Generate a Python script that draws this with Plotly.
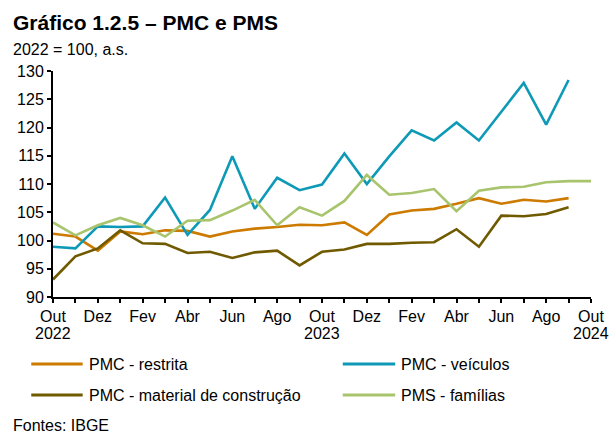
import plotly.graph_objects as go

# ---- data ----
months = ["Out 2022", "Nov 2022", "Dez 2022", "Jan 2023", "Fev 2023", "Mar 2023",
          "Abr 2023", "Mai 2023", "Jun 2023", "Jul 2023", "Ago 2023", "Set 2023",
          "Out 2023", "Nov 2023", "Dez 2023", "Jan 2024", "Fev 2024", "Mar 2024",
          "Abr 2024", "Mai 2024", "Jun 2024", "Jul 2024", "Ago 2024", "Set 2024",
          "Out 2024"]

pmc_restrita = [101.2, 100.7, 98.2, 101.6, 101.1, 101.8, 101.7, 100.7, 101.6, 102.1,
                102.4, 102.8, 102.7, 103.2, 101.0, 104.6, 105.3, 105.6, 106.5, 107.5,
                106.5, 107.2, 106.9, 107.5]
pmc_veiculos = [98.9, 98.6, 102.5, 102.4, 102.5, 107.6, 101.0, 105.4, 114.9, 105.6,
                111.1, 108.9, 109.9, 115.4, 110.0, 114.9, 119.5, 117.7, 120.9, 117.7,
                122.8, 127.9, 120.5, 128.4]
pmc_material = [93.1, 97.2, 98.6, 101.8, 99.5, 99.4, 97.8, 98.0, 96.9, 97.9,
                98.2, 95.6, 98.0, 98.4, 99.4, 99.4, 99.6, 99.7, 102.0, 98.9,
                104.4, 104.3, 104.7, 105.9]
pms_familias = [103.2, 100.9, 102.7, 104.0, 102.7, 100.7, 103.5, 103.6, 105.3, 107.2,
                102.7, 105.9, 104.4, 107.0, 111.6, 108.1, 108.4, 109.1, 105.2, 108.8,
                109.4, 109.5, 110.3, 110.5, 110.5]

tick_labels = ["Out", "", "Dez", "", "Fev", "", "Abr", "", "Jun", "", "Ago", "",
               "Out", "", "Dez", "", "Fev", "", "Abr", "", "Jun", "", "Ago", "", "Out"]
year_labels = {"Out 2022": "2022", "Out 2023": "2023", "Out 2024": "2024"}

series = [
    ("PMC - restrita", pmc_restrita, "#CC7A00"),
    ("PMC - veículos", pmc_veiculos, "#0E9AB6"),
    ("PMC - material de construção", pmc_material, "#705A00"),
    ("PMS - famílias", pms_familias, "#A8C46C"),
]

FONT = "Liberation Sans, Arial, sans-serif"

fig = go.Figure()
for name, vals, color in series:
    fig.add_trace(go.Scatter(x=months[:len(vals)], y=vals, mode="lines", name=name,
                             line=dict(color=color, width=2.6), showlegend=False))

L, R, T, B = 53, 19, 71, 138
W, H = 616, 435
pw, ph = W - L - R, H - T - B

def px_x(px):
    return (px - L) / pw

def px_y(py):
    return (H - B - py) / ph

fig.update_layout(
    width=W, height=H,
    margin=dict(l=L, r=R, t=T, b=B),
    paper_bgcolor="white", plot_bgcolor="white",
    font=dict(family=FONT, size=16, color="black"),
    xaxis=dict(type="category", categoryorder="array", categoryarray=months,
               range=[0, len(months) - 1], tickmode="array", tickvals=months,
               ticktext=tick_labels, ticks="outside", ticklen=4, tickwidth=2,
               tickcolor="black", showline=True, linewidth=2, linecolor="black",
               showgrid=False, zeroline=False, tickangle=0,
               tickfont=dict(size=16, color="black")),
    yaxis=dict(range=[90, 130], dtick=5, tick0=90, ticks="outside", ticklen=4,
               tickwidth=2, tickcolor="black", showline=True, linewidth=2,
               linecolor="black", showgrid=False, zeroline=False,
               tickfont=dict(size=16, color="black")),
)

annotations = [
    dict(text="<b>Gráfico 1.2.5 – PMC e PMS</b>", x=px_x(11), y=px_y(22), xref="paper",
         yref="paper", xanchor="left", yanchor="middle", showarrow=False,
         font=dict(size=21, color="black")),
    dict(text="2022 = 100, a.s.", x=px_x(11), y=px_y(50), xref="paper", yref="paper",
         xanchor="left", yanchor="middle", showarrow=False, font=dict(size=16)),
    dict(text="Fontes: IBGE", x=px_x(11), y=px_y(425), xref="paper", yref="paper",
         xanchor="left", yanchor="middle", showarrow=False, font=dict(size=16)),
]
for m, yr in year_labels.items():
    annotations.append(dict(text=yr, x=m, xref="x", y=px_y(333), yref="paper",
                            xanchor="center", yanchor="middle", showarrow=False,
                            font=dict(size=16)))

shapes = []
legend_pos = [(31, 83, 364), (346, 399, 364), (31, 83, 395), (346, 399, 395)]
for (name, vals, color), (x0, x1, yy) in zip(series, legend_pos):
    shapes.append(dict(type="line", xref="paper", yref="paper", x0=px_x(x0), x1=px_x(x1),
                       y0=px_y(yy), y1=px_y(yy), line=dict(color=color, width=3)))
    annotations.append(dict(text=name, x=px_x(x1 + 4), y=px_y(yy), xref="paper",
                            yref="paper", xanchor="left", yanchor="middle",
                            showarrow=False, font=dict(size=16)))

fig.update_layout(annotations=annotations, shapes=shapes)
fig.write_html("out.html", config={"displayModeBar": False},
               post_script="document.body.style.margin='0';document.body.style.overflow='hidden';")
